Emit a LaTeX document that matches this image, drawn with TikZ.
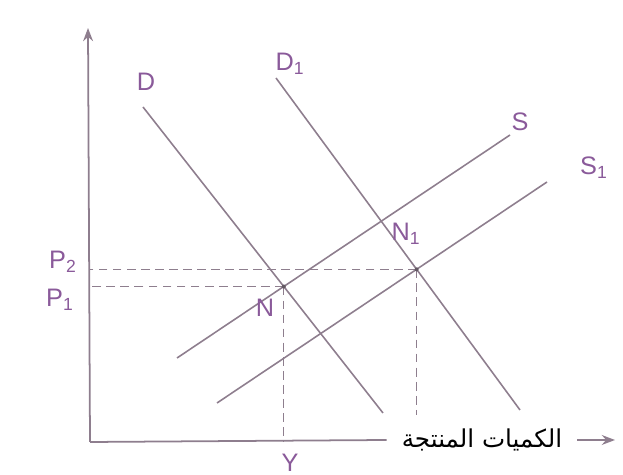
\documentclass[tikz,border=0pt]{standalone}
\usepackage{fontspec}
\setmainfont{Liberation Sans}
\newfontfamily\arabicfont[Script=Arabic]{DejaVu Sans}
\TeXXeTstate=1
\usetikzlibrary{
    arrows.meta
}
\definecolor{lapiz}{HTML}{8E7E8E}
\definecolor{tinta}{HTML}{8A5A9A}
\tikzset{
    >=Stealth,
    eje/.style={
        draw=lapiz,
        line width=1pt
    },
    curva/.style={
        draw=lapiz,
        line width=0.9pt
    },
    guia/.style={
        draw=lapiz,
        dash pattern=on 5pt off 3pt,
        line width=0.6pt
    },
    etiqueta/.style={
        text=tinta,
        font=\Large
    }
}

\begin{document}
\begin{tikzpicture}[
    x=0.02cm,
    y=-0.02cm
]
    \useasboundingbox (0,0) rectangle (623,475);

    % Ejes
    \coordinate (O)    at (90,442);
    \coordinate (ytop) at (88,28);
    \coordinate (xend) at (615,440);
    \node[fill=white, inner sep=0pt, minimum width=3.8cm, minimum height=1cm] (xlab) at (482,440)
        {\fontsize{14}{16}\selectfont\arabicfont\beginR الكميات المنتجة\endR};

    \draw[eje, ->] (O) -- (ytop);
    \draw[eje] (O) -- (xlab.west);
    \draw[eje, ->] (xlab.east) -- (xend);

    % Curvas de demanda
    \coordinate (Da)  at (143,107);
    \coordinate (Db)  at (383,413);
    \coordinate (D1a) at (276,78);
    \coordinate (D1b) at (520,410);

    % Curvas de oferta
    \coordinate (Sa)  at (177,358);
    \coordinate (Sb)  at (510,135);
    \coordinate (S1a) at (217,403);
    \coordinate (S1b) at (547,182);

    \draw[curva] (Da) -- (Db);
    \draw[curva] (D1a) -- (D1b);
    \draw[curva] (Sa) -- (Sb);
    \draw[curva] (S1a) -- (S1b);

    % Equilibrios
    \coordinate (N)  at (intersection of Da--Db and Sa--Sb);
    \coordinate (N1) at (intersection of D1a--D1b and S1a--S1b);

    \draw[guia] (N) -- (N -| O);
    \draw[guia] (N) -- (N |- O);
    \draw[guia] (N1) -- (N1 -| O);
    \draw[guia] (N1) -- (N1 |- xlab.north);

    \fill[lapiz!70!black] (N) circle (2);
    \fill[lapiz!70!black] (N1) circle (2);

    % Etiquetas
    \node[etiqueta] (lD)  at (146,82)  {D};
    \node[etiqueta] (lD1) at (290,64)  {D\textsubscript{1}};
    \node[etiqueta] (lS)  at (520,122) {S};
    \node[etiqueta] (lS1) at (594,168) {S\textsubscript{1}};
    \node[etiqueta] (lN)  at (265,308) {N};
    \node[etiqueta] (lN1) at (406,234) {N\textsubscript{1}};
    \node[etiqueta] (lP2) at (63,262)  {P\textsubscript{2}};
    \node[etiqueta] (lP1) at (60,300)  {P\textsubscript{1}};
    \node[etiqueta] (lY)  at (290,463) {Y};

\end{tikzpicture}
\end{document}
